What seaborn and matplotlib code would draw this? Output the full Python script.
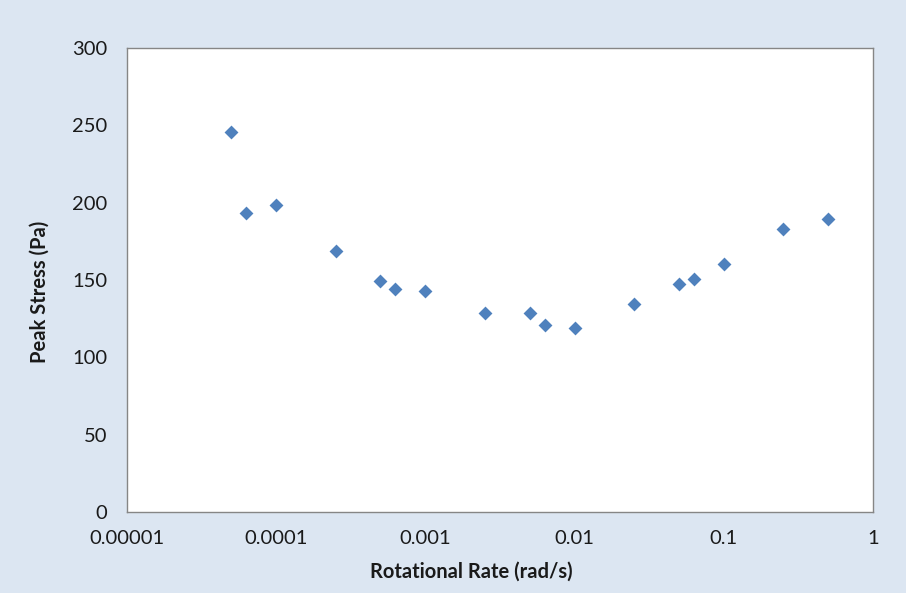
import matplotlib
matplotlib.use("Agg")
import matplotlib.pyplot as plt
import seaborn as sns
import pandas as pd
from matplotlib.ticker import FixedLocator, FixedFormatter, NullLocator

rate = [5e-5, 6.3e-5, 1e-4, 2.5e-4, 5e-4, 6.3e-4, 1e-3, 2.5e-3, 5e-3, 6.3e-3, 1e-2,
        2.5e-2, 5e-2, 6.3e-2, 0.1, 0.25, 0.5]
stress = [245.6, 193.3, 198.3, 168.7, 149.3, 144.2, 142.9, 128.6, 128.6, 120.9, 118.9,
          134.5, 147.4, 150.6, 160.3, 182.9, 189.4]
x_ticks = [1e-5, 1e-4, 1e-3, 1e-2, 1e-1, 1]
x_tick_labels = ["0.00001", "0.0001", "0.001", "0.01", "0.1", "1"]
y_ticks = [0, 50, 100, 150, 200, 250, 300]

df = pd.DataFrame({"rate": rate, "stress": stress})

sns.set_theme(style="white")
plt.rcParams["font.family"] = ["Lato", "DejaVu Sans"]

bg = "#dce6f2"
fig = plt.figure(figsize=(9.06, 5.93), dpi=100, facecolor=bg)
ax = fig.add_axes([127/906, 81/593, (873-127)/906, (512-48)/593])
ax.set_facecolor("white")

sns.scatterplot(data=df, x="rate", y="stress", ax=ax, marker="D", s=50,
                color="#4f81bd", linewidth=0, zorder=3)

ax.set_xscale("log")
ax.set_xlim(1e-5, 1)
ax.set_ylim(0, 300)
ax.xaxis.set_major_locator(FixedLocator(x_ticks))
ax.xaxis.set_major_formatter(FixedFormatter(x_tick_labels))
ax.xaxis.set_minor_locator(NullLocator())
ax.set_yticks(y_ticks)
ax.tick_params(axis="both", length=0, labelsize=14.5, colors="#1a1a1a")
ax.tick_params(axis="x", pad=13)
ax.tick_params(axis="y", pad=14)

for sp in ax.spines.values():
    sp.set_color("#868686")
    sp.set_linewidth(1.0)
    sp.set_visible(True)

ax.set_xlabel("Rotational Rate (rad/s)", fontsize=14.5, fontweight="bold", color="#1a1a1a")
ax.set_ylabel("Peak Stress (Pa)", fontsize=14.5, fontweight="bold", color="#1a1a1a")
ax.xaxis.set_label_coords((471 - 127) / 746, -(572 - 512) / 464, transform=ax.transAxes)
ax.yaxis.set_label_coords(-(127 - 40) / 746, (512 - 292) / 464, transform=ax.transAxes)
ax.xaxis.label.set_va("center")
ax.yaxis.label.set_va("center")

fig.savefig("out.png", dpi=100, facecolor=bg)
